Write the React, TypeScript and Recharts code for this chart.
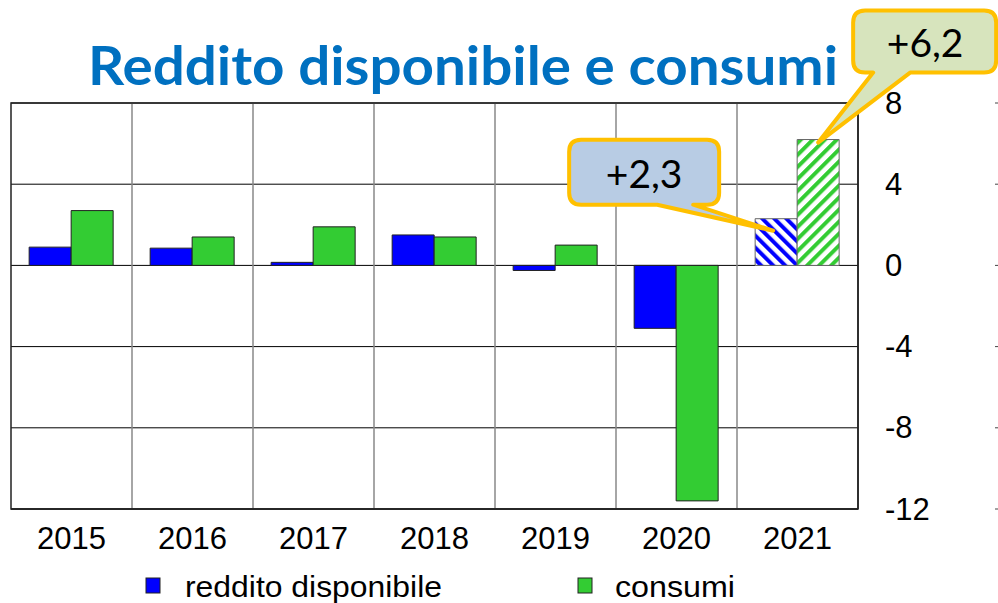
import { BarChart, Bar, XAxis, YAxis, CartesianGrid, Cell, ReferenceArea, LabelList } from 'recharts'

const years = ['2015', '2016', '2017', '2018', '2019', '2020', '2021']
const reddito = [0.9, 0.85, 0.15, 1.5, -0.25, -3.1, 2.3]
const consumi = [2.7, 1.4, 1.9, 1.4, 1.0, -11.6, 6.2]
const yTicks = [-12, -8, -4, 0, 4, 8]
const calloutText = { reddito: '+2,3', consumi: '+6,2' }

const data = years.map((year, i) => ({ year, reddito: reddito[i], consumi: consumi[i] }))

const BLUE = '#0000ff'
const GREEN = '#33cc33'
const GOLD = '#ffc000'
const AXIS_FONT = '"Liberation Sans", Arial, sans-serif'
const LAST = years.length - 1

// rounded box with a pointer coming out of its bottom edge
function calloutPath(x0: number, y0: number, x1: number, y1: number, r: number,
  b1: number, b2: number, tx: number, ty: number) {
  return `M${x0 + r},${y0} H${x1 - r} Q${x1},${y0} ${x1},${y0 + r} V${y1 - r} Q${x1},${y1} ${x1 - r},${y1}` +
    ` H${b2} L${tx},${ty} L${b1},${y1} H${x0 + r} Q${x0},${y1} ${x0},${y1 - r} V${y0 + r} Q${x0},${y0} ${x0 + r},${y0} Z`
}

function RedditoCallout(p: any) {
  if (p.index !== LAST) return null
  const { x, y } = p
  const d = calloutPath(x - 186, y - 79, x - 36, y - 14, 12, x - 98, x - 62, x + 18, y + 12)
  return (
    <g>
      <path d={d} fill="#b8cce4" stroke={GOLD} strokeWidth={4} strokeLinejoin="round" />
      <text x={x - 111} y={y - 46} textAnchor="middle" dominantBaseline="central"
        fontFamily="Lato, sans-serif" fontSize={39} fill="#000">{calloutText.reddito}</text>
    </g>
  )
}

function ConsumiCallout(p: any) {
  if (p.index !== LAST) return null
  const { x, y } = p
  const d = calloutPath(x + 56, y - 129, x + 199, y - 67, 12, x + 76, x + 113, x + 21, y + 3)
  return (
    <g>
      <path d={d} fill="#d7e4bd" stroke={GOLD} strokeWidth={4} strokeLinejoin="round" />
      <text x={x + 128} y={y - 98} textAnchor="middle" dominantBaseline="central"
        fontFamily="Lato, sans-serif" fontSize={39} fill="#000">{calloutText.consumi}</text>
    </g>
  )
}

function YearTick(p: any) {
  return (
    <text x={p.x} y={p.y + 32} textAnchor="middle" fontFamily={AXIS_FONT} fontSize={31} fill="#000">
      {p.payload.value}
    </text>
  )
}

function RightTick(p: any) {
  return (
    <g>
      <text x={p.x + 19} y={p.y} dominantBaseline="central" fontFamily={AXIS_FONT} fontSize={31} fill="#000">
        {p.payload.value}
      </text>
      <line x1={p.x + 129} x2={p.x + 132} y1={p.y} y2={p.y} stroke="#444" strokeWidth={1} />
    </g>
  )
}

export default function App() {
  return (
    <div style={{ position: 'relative', width: 998, height: 603, background: '#fff' }}>
      <style>{'body{margin:0}'}</style>
      <BarChart width={998} height={603} data={data}
        margin={{ top: 103, right: 0, left: 11, bottom: 54 }}
        barCategoryGap="15%" barGap={0}>
        <defs>
          <pattern id="hatchBlue" width={8.5} height={8.5} patternUnits="userSpaceOnUse" patternTransform="rotate(-45)">
            <rect width={8.5} height={8.5} fill="#fff" />
            <rect width={4} height={8.5} fill={BLUE} />
          </pattern>
          <pattern id="hatchGreen" width={8.5} height={8.5} patternUnits="userSpaceOnUse" patternTransform="rotate(45)">
            <rect width={8.5} height={8.5} fill="#fff" />
            <rect width={4} height={8.5} fill={GREEN} />
          </pattern>
        </defs>
        <CartesianGrid vertical={false} stroke="#000" strokeWidth={1} />
        <CartesianGrid horizontal={false} stroke="#888" strokeWidth={1.5}
          verticalCoordinatesGenerator={({ offset }: any) =>
            years.map((_, i) => offset.left + (i * offset.width) / years.length).slice(1)} />
        <XAxis dataKey="year" interval={0} tickLine={false} axisLine={{ stroke: '#222', strokeWidth: 1.5 }}
          height={40} tick={<YearTick />} />
        <YAxis orientation="right" width={140} domain={[-12, 8]} ticks={yTicks} tickLine={false}
          axisLine={{ stroke: '#222', strokeWidth: 1.5 }} tick={<RightTick />} />
        <ReferenceArea y1={-12} y2={8} fill="none" stroke="#222" strokeWidth={1.5} ifOverflow="visible" />
        <Bar dataKey="reddito" fill={BLUE} stroke="#222" strokeWidth={1} isAnimationActive={false}>
          {data.map((_, i) => (
            <Cell key={i} fill={i === LAST ? 'url(#hatchBlue)' : BLUE} stroke={i === LAST ? '#666' : '#222'} />
          ))}
          <LabelList dataKey="reddito" content={<RedditoCallout />} />
        </Bar>
        <Bar dataKey="consumi" fill={GREEN} stroke="#222" strokeWidth={1} isAnimationActive={false}>
          {data.map((_, i) => (
            <Cell key={i} fill={i === LAST ? 'url(#hatchGreen)' : GREEN} stroke={i === LAST ? '#666' : '#222'} />
          ))}
          <LabelList dataKey="consumi" content={<ConsumiCallout />} />
        </Bar>
      </BarChart>
      <svg width={998} height={603} style={{ position: 'absolute', left: 0, top: 0, pointerEvents: 'none' }}>
        <text x={88} y={85} textLength={750} lengthAdjust="spacingAndGlyphs"
          fontFamily="Lato, sans-serif" fontWeight={700} fontSize={54} fill="#0070c0">
          Reddito disponibile e consumi
        </text>
        <rect x={146} y={578} width={14} height={15} fill={BLUE} stroke="#222" strokeWidth={1} />
        <text x={185} y={597} textLength={257} lengthAdjust="spacingAndGlyphs"
          fontFamily={AXIS_FONT} fontSize={30} fill="#000">reddito disponibile</text>
        <rect x={578} y={578} width={14} height={15} fill={GREEN} stroke="#222" strokeWidth={1} />
        <text x={615} y={597} textLength={120} lengthAdjust="spacingAndGlyphs"
          fontFamily={AXIS_FONT} fontSize={30} fill="#000">consumi</text>
      </svg>
    </div>
  )
}
